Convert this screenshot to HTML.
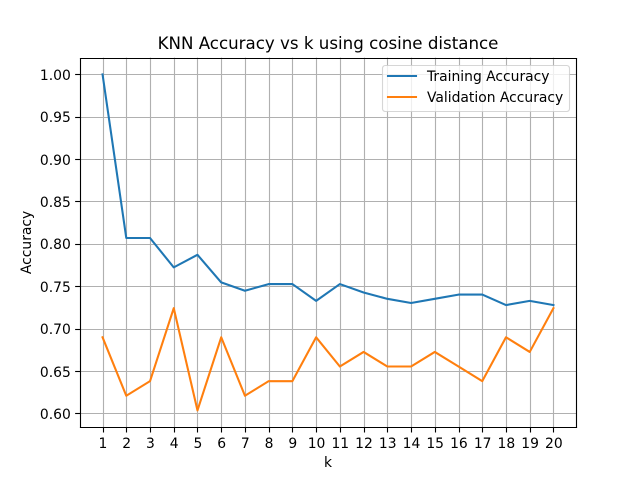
<!DOCTYPE html>
<html lang="en">
<head>
<meta charset="utf-8">
<title>KNN Accuracy vs k using cosine distance</title>
<style>
  html, body { margin: 0; padding: 0; background: #fff; }
  body { width: 640px; height: 480px; overflow: hidden; }
  svg { display: block; }
  text { font-family: "DejaVu Sans", "Liberation Sans", sans-serif; fill: #000; }
</style>
</head>
<body>
<svg id="chart" xmlns="http://www.w3.org/2000/svg" width="640" height="480" viewBox="0 0 640 480">
  <rect x="0" y="0" width="640" height="480" fill="#ffffff"/>
  <rect x="80" y="57.6" width="496" height="369.6" fill="#ffffff"/>
  <g id="grid"></g>
  <g id="ticks"></g>
  <g id="series"></g>
  <g stroke="#000" stroke-width="1.11" fill="none" stroke-linecap="square">
    <line x1="80.5" y1="58.5" x2="80.5" y2="427.5"/>
    <line x1="576.5" y1="58.5" x2="576.5" y2="427.5"/>
    <line x1="80.5" y1="58.5" x2="576.5" y2="58.5"/>
    <line x1="80.5" y1="427.5" x2="576.5" y2="427.5"/>
  </g>
  <text x="328" y="49" text-anchor="middle" font-size="16.67">KNN Accuracy vs k using cosine distance</text>
  <text x="328" y="467" text-anchor="middle" font-size="13.89">k</text>
  <text x="0" y="0" text-anchor="middle" font-size="13.89" transform="translate(31 242.4) rotate(-90)">Accuracy</text>
  <g>
    <rect x="382.5" y="65.5" width="187" height="46" rx="2.8" ry="2.8" fill="#ffffff" fill-opacity="0.8" stroke="#cccccc" stroke-opacity="0.8" stroke-width="1.11"/>
    <g>
      <line x1="388" y1="76" x2="416" y2="76" stroke="#1f77b4" stroke-width="2.08" stroke-linecap="square"/>
      <text x="427" y="81" font-size="13.89">Training Accuracy</text>
    </g>
    <g>
      <line x1="388" y1="97" x2="416" y2="97" stroke="#ff7f0e" stroke-width="2.08" stroke-linecap="square"/>
      <text x="427" y="102" font-size="13.89">Validation Accuracy</text>
    </g>
  </g>
</svg>
<script>
const kValues = [1, 2, 3, 4, 5, 6, 7, 8, 9, 10, 11, 12, 13, 14, 15, 16, 17, 18, 19, 20];
const trainingAccuracy = [1.0, 0.8069, 0.8069, 0.7722, 0.7871, 0.7545, 0.7446, 0.7525, 0.7525, 0.7327, 0.7525, 0.7426, 0.7351, 0.7302, 0.7351, 0.7401, 0.7401, 0.7277, 0.7327, 0.7277];
const validationAccuracy = [0.6897, 0.6207, 0.6379, 0.7241, 0.6034, 0.6897, 0.6207, 0.6379, 0.6379, 0.6897, 0.6552, 0.6724, 0.6552, 0.6552, 0.6724, 0.6552, 0.6379, 0.6897, 0.6724, 0.7241];
const yTickValues = [0.60, 0.65, 0.70, 0.75, 0.80, 0.85, 0.90, 0.95, 1.00];
const yTickLabels = ["0.60", "0.65", "0.70", "0.75", "0.80", "0.85", "0.90", "0.95", "1.00"];
const xDomain = [0.05, 20.95];
const yDomain = [0.58357, 1.01983];

const SVG_NS = "http://www.w3.org/2000/svg";
const plot = { left: 80, right: 576, top: 57.6, bottom: 427.2 };

function xScale(v) {
  return plot.left + (v - xDomain[0]) / (xDomain[1] - xDomain[0]) * (plot.right - plot.left);
}
function yScale(v) {
  return plot.bottom - (v - yDomain[0]) / (yDomain[1] - yDomain[0]) * (plot.bottom - plot.top);
}
function snap(p) {
  return Math.round(p) + 0.5;
}
function makeLine(x1, y1, x2, y2, color, width) {
  const el = document.createElementNS(SVG_NS, "line");
  el.setAttribute("x1", x1);
  el.setAttribute("y1", y1);
  el.setAttribute("x2", x2);
  el.setAttribute("y2", y2);
  el.setAttribute("stroke", color);
  el.setAttribute("stroke-width", width);
  return el;
}
function makeLabel(x, y, anchor, content) {
  const el = document.createElementNS(SVG_NS, "text");
  el.setAttribute("x", x);
  el.setAttribute("y", y);
  el.setAttribute("text-anchor", anchor);
  el.setAttribute("font-size", "13.89");
  el.textContent = content;
  return el;
}

const gridGroup = document.getElementById("grid");
const tickGroup = document.getElementById("ticks");
const seriesGroup = document.getElementById("series");

kValues.forEach(function (k) {
  const x = snap(xScale(k));

  const gridLine = makeLine(x, plot.top, x, plot.bottom, "#b0b0b0", 1.11);
  
  
  gridGroup.appendChild(gridLine);

  const tick = makeLine(x, plot.bottom, x, plot.bottom + 5.3, "#000000", 1.11);
  
  
  tickGroup.appendChild(tick);

  const label = makeLabel(xScale(k) + 0.4, 448, "middle", String(k));
  
  
  tickGroup.appendChild(label);
});

yTickValues.forEach(function (v, i) {
  const y = snap(yScale(v));

  const gridLine = makeLine(plot.left, y, plot.right, y, "#b0b0b0", 1.11);
  
  
  gridGroup.appendChild(gridLine);

  const tick = makeLine(plot.left - 4.86, y, plot.left, y, "#000000", 1.11);
  
  
  tickGroup.appendChild(tick);

  const label = makeLabel(plot.left - 9.2, Math.round(yScale(v) + 5.6), "end", yTickLabels[i]);
  
  
  tickGroup.appendChild(label);
});

function makeSeries(values, color) {
  const el = document.createElementNS(SVG_NS, "polyline");
  const points = values.map(function (v, i) {
    return xScale(kValues[i]).toFixed(2) + "," + yScale(v).toFixed(2);
  });
  el.setAttribute("points", points.join(" "));
  el.setAttribute("fill", "none");
  el.setAttribute("stroke", color);
  el.setAttribute("stroke-width", "2.08");
  el.setAttribute("stroke-linejoin", "round");
  el.setAttribute("stroke-linecap", "square");
  return el;
}

const trainingLine = makeSeries(trainingAccuracy, "#1f77b4");


seriesGroup.appendChild(trainingLine);

const validationLine = makeSeries(validationAccuracy, "#ff7f0e");


seriesGroup.appendChild(validationLine);
</script>
</body>
</html>
